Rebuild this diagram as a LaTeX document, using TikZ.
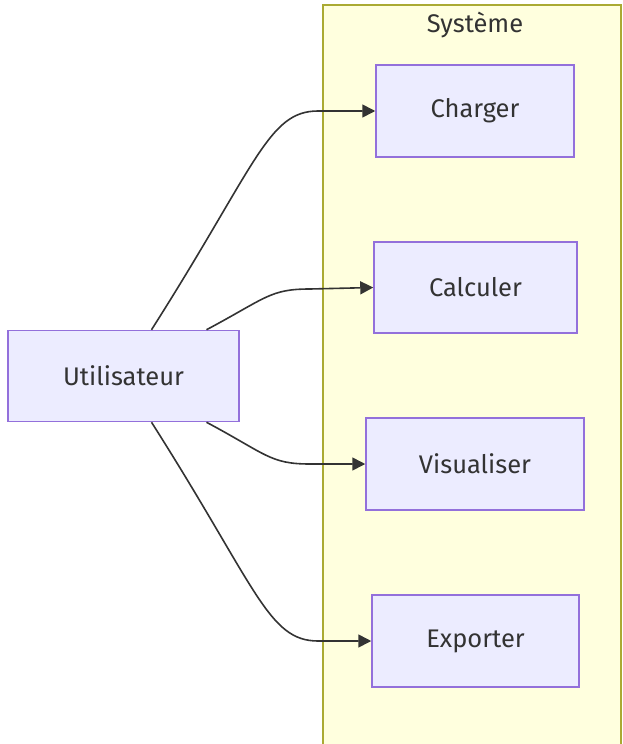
\documentclass[tikz,border=0pt]{standalone}
\usepackage{fontspec}
\setmainfont{Fira Sans}
\usetikzlibrary{arrows.meta, positioning}
\definecolor{nodefill}{HTML}{ECECFF}
\definecolor{nodeline}{HTML}{9370DB}
\definecolor{groupfill}{HTML}{FFFFDE}
\definecolor{groupline}{HTML}{AAAA33}
\definecolor{inkgray}{HTML}{333333}
\tikzset{
  usecase/.style={rectangle, draw=nodeline, fill=nodefill, line width=1.5pt,
                  text=inkgray, text centered, font=\fontsize{25.5}{30}\selectfont},
  arrow/.style={-{Triangle[length=13pt, width=13pt]}, draw=inkgray, line width=1.6pt},
}

\begin{document}
\begin{tikzpicture}[x=1pt, y=-1pt]
  \clip (0,0) rectangle (622,744);
  \useasboundingbox (0,0) rectangle (622,744);

  % System boundary
  \draw[groupline, fill=groupfill, line width=1.5pt] (323,5) rectangle (621,760);
  \node[text=inkgray, font=\fontsize{25.5}{30}\selectfont] (systitle) at (475,25) {Système};

  % Actor
  \node[usecase, minimum width=231pt, minimum height=91pt] (user) at (123.5,376) {Utilisateur};

  % Use cases
  \node[usecase, minimum width=198pt, minimum height=92pt] (charger) at (475,111) {Charger};
  \node[usecase, minimum width=203pt, minimum height=91pt] (calculer) at (475.5,287.5) {Calculer};
  \node[usecase, minimum width=218pt, minimum height=92pt] (visualiser) at (475,464) {Visualiser};
  \node[usecase, minimum width=207pt, minimum height=92pt] (exporter) at (475.5,641) {Exporter};

  % Exit points on the actor box
  \coordinate (utl) at ([xshift=28pt]user.north);
  \coordinate (utr) at ([xshift=83pt]user.north);
  \coordinate (ubl) at ([xshift=28pt]user.south);
  \coordinate (ubr) at ([xshift=83pt]user.south);

  % Links
  \draw[arrow] (utl) .. controls +(105,-165) and +(-50,0) .. (318,111) -- (charger.west);
  \draw[arrow] (utr) .. controls +(60,-32) and +(-40,0) .. (310,289) -- (calculer.west);
  \draw[arrow] (ubr) .. controls +(60,32) and +(-40,0) .. (310,464) -- (visualiser.west);
  \draw[arrow] (ubl) .. controls +(105,165) and +(-50,0) .. (318,641) -- (exporter.west);
\end{tikzpicture}
\end{document}
